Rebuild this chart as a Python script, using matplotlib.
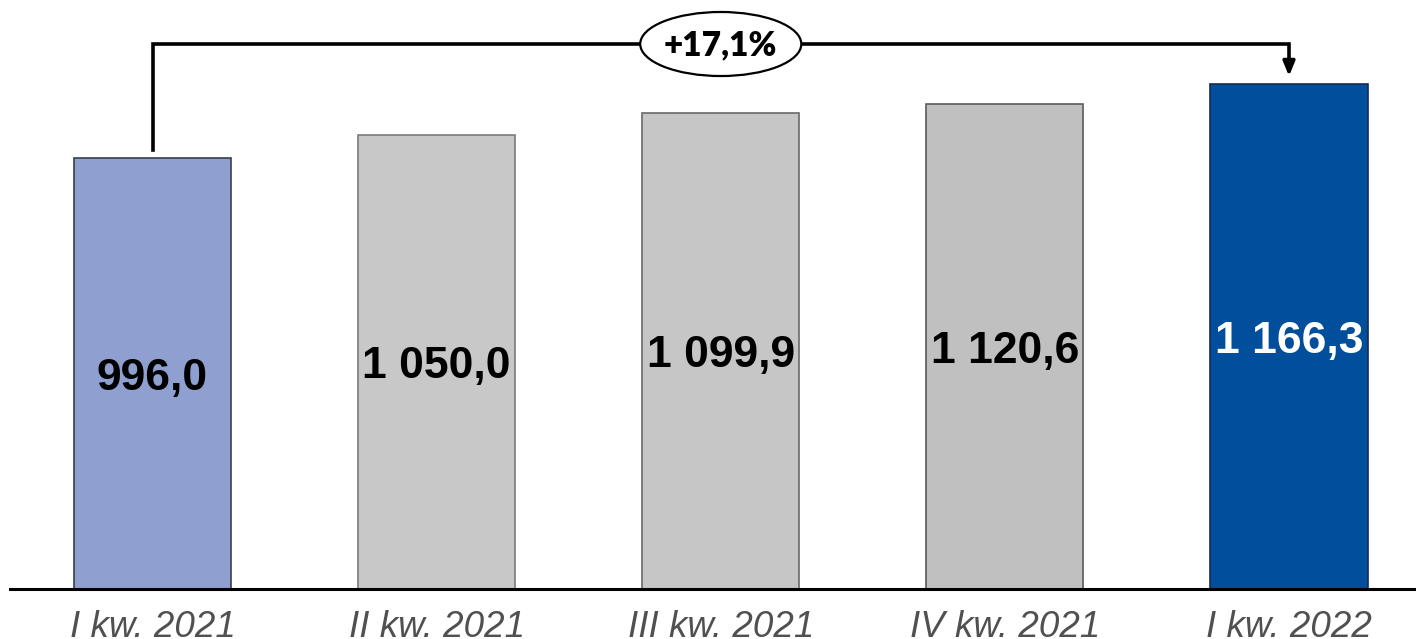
import matplotlib
matplotlib.use("Agg")
import matplotlib.pyplot as plt
from matplotlib.patches import Ellipse

# dane
kwartaly = ["I kw. 2021", "II kw. 2021", "III kw. 2021", "IV kw. 2021", "I kw. 2022"]
wartosci = [996.0, 1050.0, 1099.9, 1120.6, 1166.3]
etykiety = ["996,0", "1 050,0", "1 099,9", "1 120,6", "1 166,3"]
zmiana = "+17,1%"

kolory = ["#8FA0D0", "#C8C8C8", "#C6C6C6", "#C0C0C0", "#004E9C"]
krawedzie = ["#3A3E4A", "#7A7A7A", "#6A6A6A", "#5A5A5A", "#1A2A50"]
kolory_tekstu = ["black", "black", "black", "black", "white"]

fig = plt.figure(figsize=(14.16, 6.39), dpi=100)
ax = fig.add_axes([10 / 1416, 50 / 639, 1406 / 1416, 589 / 639])

x = list(range(len(wartosci)))
ax.bar(x, wartosci, width=0.553, color=kolory, edgecolor=krawedzie, linewidth=1.2)

for xi, v, lab, c in zip(x, wartosci, etykiety, kolory_tekstu):
    ax.text(xi, v / 2 - 11, lab, ha="center", va="center", fontsize=32,
            fontweight="bold", color=c, family="Liberation Sans")

ax.set_xlim(-0.5016, 4.447)
ax.set_ylim(0, 1361.2)

# strzalka z procentem
y_gora = 1259.5
ax.plot([x[0], x[0], x[-1], x[-1]],
        [wartosci[0] + 19, y_gora, y_gora, wartosci[-1] + 55],
        color="black", lw=2.6, solid_joinstyle="miter", clip_on=False)
ax.annotate("", xy=(x[-1], wartosci[-1] + 19), xytext=(x[-1], wartosci[-1] + 57),
            arrowprops=dict(arrowstyle="-|>,head_width=0.35,head_length=0.85",
                            color="black", lw=2.6, shrinkA=0, shrinkB=0))
el = Ellipse(((x[0] + x[-1]) / 2, y_gora), 0.567, 148, facecolor="white",
             edgecolor="black", lw=1.6, zorder=5, clip_on=False)
ax.add_patch(el)
ax.text((x[0] + x[-1]) / 2, y_gora - 2, zmiana, ha="center", va="center",
        fontsize=24, fontweight="heavy", family="Lato", zorder=6)

ax.set_xticks(x)
ax.set_xticklabels(kwartaly, fontsize=26.5, style="italic", color="#505050",
                   family="Liberation Sans")
ax.tick_params(axis="x", length=0, pad=15)
ax.set_yticks([])
for s in ["top", "left", "right"]:
    ax.spines[s].set_visible(False)
ax.spines["bottom"].set_linewidth(2.2)
ax.spines["bottom"].set_color("black")

fig.savefig("out.png", dpi=100)
